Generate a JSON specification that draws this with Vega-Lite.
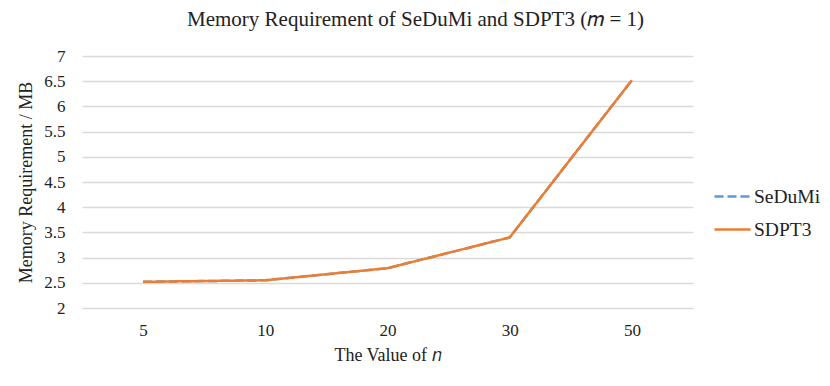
{
  "$schema": "https://vega.github.io/schema/vega-lite/v6.json",
  "autosize": {"type": "none"},
  "padding": {"left": 82, "top": 56, "right": 137, "bottom": 78},
  "width": 611,
  "height": 252,
  "background": "white",
  "config": {
    "font": "Liberation Serif",
    "view": {"stroke": null},
    "axis": {"domain": false, "ticks": false, "labelFont": "Liberation Serif", "titleFont": "Liberation Serif", "labelColor": "#222", "titleColor": "#222", "titleFontWeight": "normal", "labelFontSize": 17, "titleFontSize": 18}
  },
  "title": {"text": "Memory Requirement of SeDuMi and SDPT3 (𝑚 = 1)", "font": "Liberation Serif", "fontSize": 21, "fontWeight": "normal", "color": "#222", "anchor": "middle", "dx": 28, "offset": 17},
  "data": {
    "values": [
      {"n": "5", "series": "SeDuMi", "mem": 2.52},
      {"n": "10", "series": "SeDuMi", "mem": 2.55},
      {"n": "20", "series": "SeDuMi", "mem": 2.79},
      {"n": "30", "series": "SeDuMi", "mem": 3.4},
      {"n": "50", "series": "SeDuMi", "mem": 6.52},
      {"n": "5", "series": "SDPT3", "mem": 2.52},
      {"n": "10", "series": "SDPT3", "mem": 2.55},
      {"n": "20", "series": "SDPT3", "mem": 2.79},
      {"n": "30", "series": "SDPT3", "mem": 3.4},
      {"n": "50", "series": "SDPT3", "mem": 6.52}
    ]
  },
  "mark": {"type": "line", "strokeWidth": 2.5},
  "encoding": {
    "x": {"field": "n", "type": "ordinal", "sort": null, "scale": {"type": "point", "padding": 0.5},
      "axis": {"labelAngle": 0, "labelPadding": 14, "title": "The Value of 𝑛", "titlePadding": 8, "grid": false}},
    "y": {"field": "mem", "type": "quantitative", "scale": {"domain": [2, 7], "nice": false, "zero": false},
      "axis": {"values": [2, 2.5, 3, 3.5, 4, 4.5, 5, 5.5, 6, 6.5, 7], "format": "~g", "labelPadding": 17, "title": "Memory Requirement / MB", "titlePadding": 8, "grid": true, "gridColor": "#d9d9d9", "gridWidth": 1.3}},
    "color": {"field": "series", "type": "nominal", "sort": ["SeDuMi", "SDPT3"],
      "scale": {"domain": ["SeDuMi", "SDPT3"], "range": ["#5B9BD5", "#ED7D31"]},
      "legend": {"title": null, "orient": "none", "legendX": 631, "legendY": 121, "symbolType": "stroke", "symbolSize": 1296, "symbolStrokeWidth": 2.5, "labelFont": "Liberation Serif", "labelFontSize": 19.5, "labelColor": "#222", "labelOffset": 2, "rowPadding": 4}},
    "strokeDash": {"field": "series", "type": "nominal", "sort": ["SeDuMi", "SDPT3"],
      "scale": {"domain": ["SeDuMi", "SDPT3"], "range": [[9, 4], [1, 0]]}}
  }
}
